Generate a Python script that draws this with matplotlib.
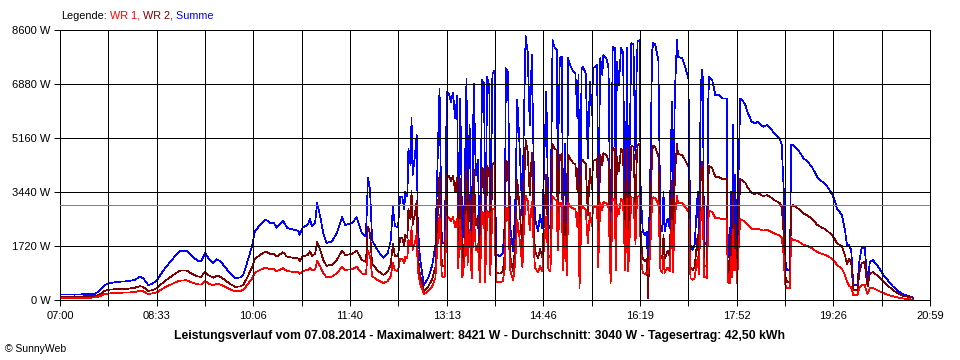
"""SunnyWeb Tagesverlauf 07.08.2014 - WR 1, WR 2 und Summe."""
import matplotlib
matplotlib.use("Agg")
import matplotlib.pyplot as plt
import numpy as np
from matplotlib.offsetbox import TextArea, HPacker, AnchoredOffsetbox

plt.rcParams["font.family"] = ["Liberation Sans", "DejaVu Sans"]

# minutes after 07:00, power in W
time_min = [
    0, 14, 27, 34, 39, 43, 48, 56, 66, 72, 77, 80, 85, 89, 94, 96, 101, 106, 111, 116,
    122, 128, 133, 136, 140, 144, 148, 151, 154, 158, 164, 169, 174, 177, 181, 185, 188, 193, 198, 203,
    206, 209, 215, 219, 224, 230, 231, 234, 239, 241, 243, 246, 248, 251, 254, 257, 262, 267, 272, 275,
    282, 286, 291, 295, 297, 299, 301, 307, 312, 316, 319, 321, 323, 326, 328, 330, 332, 333, 335, 336,
    338, 339, 340, 342, 344, 345, 347, 349, 351, 355, 359, 362, 364, 366, 367, 368, 369, 371, 372, 373,
    375, 377, 379, 381, 383, 384, 386, 388, 390, 392, 393, 395, 397, 399, 401, 403, 405, 407, 409, 410,
    412, 414, 415, 417, 419, 420, 421, 424, 427, 429, 430, 432, 434, 437, 439, 441, 443, 446, 447, 449,
    451, 453, 455, 457, 458, 461, 463, 465, 469, 471, 473, 475, 477, 479, 480, 482, 484, 485, 487, 489,
    490, 492, 495, 497, 499, 500, 501, 503, 504, 507, 509, 511, 513, 514, 516, 518, 519, 521, 523, 524,
    527, 529, 531, 533, 535, 536, 537, 539, 541, 543, 545, 547, 548, 551, 553, 555, 556, 557, 559, 560,
    562, 564, 566, 567, 569, 571, 572, 574, 576, 577, 579, 581, 582, 583, 586, 588, 590, 591, 593, 595,
    596, 600, 603, 606, 608, 610, 612, 615, 616, 618, 619, 620, 621, 624, 625, 626, 629, 632, 635, 639,
    643, 644, 646, 647, 648, 649, 650, 651, 653, 654, 656, 658, 661, 663, 667, 670, 673, 678, 682, 685,
    690, 694, 696, 698, 699, 701, 704, 705, 707, 712, 717, 721, 726, 730, 735, 738, 741, 745, 747, 749,
    754, 757, 759, 761, 763, 765, 769, 771, 773, 776, 778, 779, 781, 784, 789, 794, 799, 803, 808, 813,
    818, 823,
]
wr1 = [
    70, 60, 70, 80, 130, 190, 210, 230, 240, 250, 300, 280, 190, 210, 250, 300, 400, 480, 560, 620,
    630, 550, 500, 490, 600, 510, 470, 520, 500, 440, 340, 280, 290, 330, 500, 680, 870, 960, 1030, 980,
    990, 920, 1010, 920, 900, 880, 830, 920, 960, 1030, 940, 980, 1240, 1060, 840, 730, 740, 850, 1060, 960,
    980, 1060, 850, 810, 1560, 1400, 760, 620, 540, 600, 760, 1190, 940, 930, 1320, 1320, 1160, 1380, 1320, 1930,
    1720, 2320, 1590, 1800, 2100, 960, 560, 360, 190, 280, 440, 700, 1720, 2700, 1800, 870, 720, 740, 1600, 2650,
    2630, 2520, 2640, 2320, 2600, 1000, 2570, 720, 1200, 2820, 1120, 2230, 700, 2760, 1590, 1780, 570, 2800, 2760, 570,
    2840, 2720, 800, 2880, 2920, 1120, 580, 560, 600, 1000, 2950, 2910, 960, 620, 1200, 2550, 2020, 1040, 2000, 3320,
    3160, 2230, 3120, 1600, 1040, 880, 1080, 920, 2650, 960, 920, 3310, 3210, 3180, 1590, 3080, 3100, 960, 2000, 800,
    3080, 2990, 2910, 2890, 2320, 2870, 360, 2930, 2970, 2890, 1810, 2780, 2360, 2950, 2970, 2990, 1040, 3080, 2870, 3120,
    3080, 2950, 530, 3230, 3210, 960, 3040, 2740, 3210, 3160, 960, 3210, 920, 3270, 3260, 1790, 2870, 3290, 3310, 1380,
    870, 830, 870, 850, 1380, 3160, 3270, 3260, 3120, 3080, 960, 870, 1380, 870, 1040, 920, 2530, 870, 2650, 3310,
    3100, 3080, 2960, 2820, 700, 640, 700, 1380, 830, 2700, 2930, 2820, 740, 700, 2480, 2840, 2800, 2610, 2610, 2570,
    2570, 570, 530, 1380, 720, 2230, 960, 1590, 530, 1380, 2570, 2550, 2480, 2400, 2270, 2250, 2270, 2210, 2230, 2190,
    2100, 2060, 1980, 1380, 530, 380, 380, 1980, 1920, 1870, 1760, 1720, 1630, 1530, 1470, 1440, 1390, 1300, 1240, 1120,
    1000, 800, 580, 450, 400, 160, 160, 380, 480, 480, 260, 200, 380, 380, 300, 220, 160, 120, 80, 50,
    30, 10,
]
wr2 = [
    110, 110, 120, 120, 190, 290, 330, 350, 360, 390, 440, 420, 290, 310, 390, 460, 600, 720, 840, 940,
    940, 820, 750, 740, 900, 770, 710, 780, 750, 660, 510, 420, 430, 490, 750, 1020, 1310, 1440, 1540, 1470,
    1480, 1380, 1520, 1380, 1350, 1320, 1240, 1380, 1440, 1550, 1410, 1470, 1850, 1590, 1260, 1090, 1120, 1280, 1580, 1430,
    1470, 1580, 1280, 1210, 2340, 2100, 1140, 920, 800, 900, 1140, 1780, 1400, 1400, 1970, 1980, 1740, 2070, 1980, 2900,
    2580, 3470, 2390, 2700, 3150, 1430, 840, 540, 290, 420, 670, 1050, 2580, 4040, 2700, 1310, 1080, 1110, 2400, 3980,
    3950, 3780, 3960, 3480, 3900, 1500, 3850, 1080, 1800, 4240, 1690, 3340, 1050, 4140, 2390, 2680, 860, 4200, 4140, 860,
    4260, 4080, 1200, 4320, 4380, 1680, 870, 840, 900, 1500, 4430, 4360, 1430, 920, 1800, 3820, 3020, 1560, 3000, 5100,
    4740, 3340, 4680, 2400, 1560, 1320, 1620, 1370, 3980, 1430, 1370, 4970, 4820, 4780, 2390, 4620, 4650, 1430, 2990, 1200,
    4620, 4490, 4360, 4330, 3470, 4300, 540, 4400, 4460, 4330, 2710, 4180, 3530, 4430, 4460, 4490, 1560, 4620, 4300, 4680,
    4620, 4430, 800, 4840, 4820, 1430, 4550, 4110, 4820, 4740, 1430, 4820, 1370, 4910, 4880, 2690, 4300, 4940, 4970, 2070,
    1310, 1240, 1310, 50, 2070, 4740, 4910, 4880, 4680, 4620, 1430, 1310, 2070, 1310, 1560, 1370, 3790, 1310, 3980, 4970,
    4650, 4620, 4440, 4240, 1050, 950, 1050, 2070, 1240, 4040, 4400, 4240, 1110, 1050, 3730, 4270, 4200, 3920, 3920, 3850,
    3850, 860, 800, 2070, 1080, 3340, 1430, 2390, 800, 2070, 3850, 3820, 3730, 3590, 3410, 3380, 3410, 3310, 3340, 3280,
    3160, 3090, 2960, 2070, 800, 580, 580, 2960, 3020, 2910, 2750, 2690, 2560, 2400, 2300, 2260, 2170, 2040, 1950, 1810,
    1710, 1430, 1140, 1300, 1190, 320, 320, 890, 1160, 1220, 600, 440, 840, 890, 760, 580, 440, 320, 210, 130,
    100, 70,
]
summe = [a + b for a, b in zip(wr1, wr2)]

x_labels = ["07:00", "08:33", "10:06", "11:40", "13:13", "14:46", "16:19", "17:52", "19:26", "20:59"]
y_ticks = [0, 1720, 3440, 5160, 6880, 8600]
day_span = 839          # 07:00 .. 20:59 in minutes
avg_w = 3040

title = ("Leistungsverlauf vom 07.08.2014 - Maximalwert: 8421 W - "
         "Durchschnitt: 3040 W - Tagesertrag: 42,50 kWh")
legend_parts = [("Legende:", "black"), (" WR 1,", "#ff0000"),
                (" WR 2,", "#800000"), (" Summe", "#0000ff")]

LW = 0.7       # ~1 px at 100 dpi (grid, frame)
DATA_LW = 0.5  # thin curves

fig = plt.figure(figsize=(9.6, 3.6), dpi=100)
ax = fig.add_axes([60 / 960, 60 / 360, 870 / 960, 270 / 360])

ax.plot(time_min, summe, color="#0000ff", lw=DATA_LW, antialiased=False, zorder=2)
ax.plot(time_min, wr2, color="#800000", lw=DATA_LW, antialiased=False, zorder=2)
ax.plot(time_min, wr1, color="#ff0000", lw=DATA_LW, antialiased=False, zorder=2)
ax.axhline(avg_w, color="#808080", lw=LW, antialiased=False, zorder=4)

ax.set_xlim(0, day_span)
ax.set_ylim(0, y_ticks[-1])
xt = np.linspace(0, day_span, 2 * len(x_labels) - 1)
ax.set_xticks(xt)
ax.set_xticklabels([x_labels[i // 2] if i % 2 == 0 else "" for i in range(len(xt))])
ax.set_yticks(y_ticks)
ax.set_yticklabels([f"{v} W" for v in y_ticks])
ax.grid(True, color="black", lw=LW, antialiased=False)
ax.set_axisbelow(False)
ax.tick_params(length=4, width=LW, labelsize=8, colors="black")
ax.tick_params(axis="x", pad=4)
ax.tick_params(axis="y", pad=3)
for s in ax.spines.values():
    s.set_linewidth(LW)
    s.set_color("black")
    s.set_antialiased(False)

# multicoloured legend line above the plot
parts = [TextArea(s, textprops=dict(color=c, fontsize=7.8)) for s, c in legend_parts]
box = HPacker(children=parts, align="baseline", pad=0, sep=0)
anchored = AnchoredOffsetbox(loc="center left", child=box, pad=0, borderpad=0,
                             frameon=False, bbox_to_anchor=(61 / 960, (360 - 16) / 360),
                             bbox_transform=fig.transFigure)
fig.add_artist(anchored)

fig.text(0.5, (360 - 336) / 360, title, ha="center", va="center",
         fontsize=8.8, fontweight="bold")
fig.text(5 / 960, (360 - 349) / 360, "© SunnyWeb", ha="left", va="center", fontsize=7.5)

plt.savefig("out.png", dpi=100)
